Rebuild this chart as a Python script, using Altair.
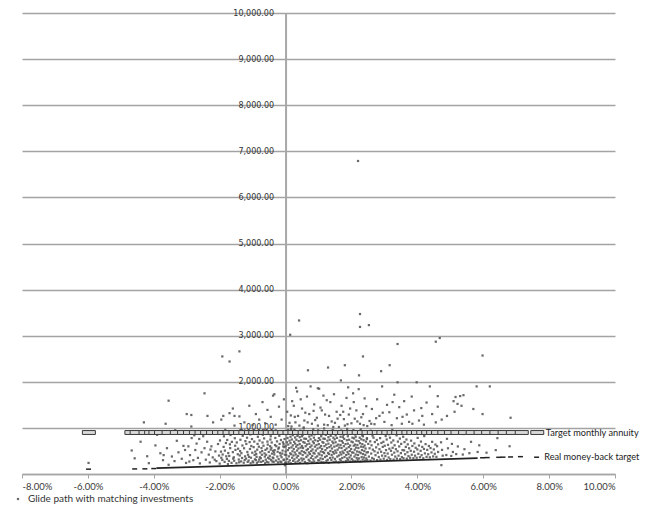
import altair as alt
import pandas as pd

# ---------------- data ----------------
x_ticks = [-8, -6, -4, -2, 0, 2, 4, 6, 8, 10]
y_ticks = [0, 1000, 2000, 3000, 4000, 5000, 6000, 7000, 8000, 9000, 10000]

glide_name = "Glide path with matching investments"
annuity_name = "Target monthly annuity"
moneyback_name = "Real money-back target"

# sparse / outlying glide-path outcomes (x in %, y in currency)
glide_sparse = [
    (2.2, 6790), (2.26, 3470), (0.41, 3330), (2.26, 3190), (2.53, 3230), (0.14, 3020),
    (-1.92, 2550), (-1.7, 2440), (-1.4, 2660), (0.68, 2250), (1.29, 2310), (1.8, 2360),
    (2.35, 2550), (2.23, 2140), (2.9, 2230), (3.16, 2360), (3.4, 2820), (1.68, 2030),
    (4.56, 2870), (4.68, 2950), (5.98, 2570), (0.32, 1870), (0.98, 1860), (1.9, 1880),
    (-5.98, 240), (-3.55, 1590), (-2.46, 1750), (-0.34, 1730), (-3.64, 1090),
    (-2.86, 1280), (-2.37, 1260), (-1.89, 1260), (-1.55, 1260), (-2.86, 1030),
]

# left part of the cloud (x < -2 %)
glide_left = [
    (-4.67, 510), (-4.58, 340), (-4.2, 385), (-4.15, 235), (-3.95, 620), (-3.8, 450),
    (-3.72, 300), (-3.6, 560), (-3.55, 200), (-3.45, 380), (-3.37, 280), (-3.3, 720),
    (-3.25, 470), (-3.15, 330), (-3.1, 610), (-3.02, 240), (-2.95, 600), (-2.9, 410),
    (-2.85, 780), (-2.8, 300), (-2.74, 520), (-2.7, 660), (-2.66, 350), (-2.6, 230),
    (-2.55, 470), (-2.5, 820), (-2.46, 560), (-2.42, 310), (-2.38, 700), (-2.33, 420),
    (-2.3, 250), (-2.25, 600), (-2.21, 360), (-2.17, 880), (-2.13, 490), (-2.1, 280),
    (-2.05, 650), (-2.02, 400), (-4.4, 700), (-3.9, 850), (-2.77, 840), (-3.35, 950),
    (-3.05, 520), (-2.62, 760), (-2.28, 530), (-2.15, 310), (-3.7, 410), (-2.92, 270),
]

# dense cloud below the annuity level, -2 % .. 0 %
glide_mid_left = [
    (-2.0, 225), (-1.96, 485), (-1.99, 728), (-1.95, 352), (-1.97, 905),
    (-1.92, 305), (-1.88, 588), (-1.91, 423), (-1.87, 817),
    (-1.85, 262), (-1.81, 672), (-1.84, 507), (-1.8, 384), (-1.83, 958),
    (-1.78, 328), (-1.74, 455), (-1.77, 738), (-1.75, 214),
    (-1.72, 283), (-1.68, 561), (-1.71, 392), (-1.67, 846), (-1.69, 643),
    (-1.64, 242), (-1.6, 474), (-1.63, 697), (-1.59, 334), (-1.61, 918),
    (-1.57, 362), (-1.53, 613), (-1.56, 288), (-1.52, 523), (-1.54, 776),
    (-1.49, 233), (-1.45, 428), (-1.48, 684), (-1.44, 548), (-1.46, 872),
    (-1.42, 313), (-1.38, 497), (-1.41, 254), (-1.37, 743), (-1.39, 402), (-1.36, 957),
    (-1.35, 273), (-1.31, 618), (-1.34, 452), (-1.3, 828), (-1.32, 347),
    (-1.27, 244), (-1.23, 383), (-1.26, 558), (-1.22, 713), (-1.24, 302), (-1.21, 897),
    (-1.2, 334), (-1.16, 478), (-1.19, 652), (-1.15, 263), (-1.17, 787), (-1.14, 418),
    (-1.12, 292), (-1.08, 543), (-1.11, 372), (-1.07, 858), (-1.09, 692), (-1.06, 234),
    (-1.05, 353), (-1.01, 462), (-1.04, 607), (-1.0, 273), (-1.02, 758), (-0.99, 938),
    (-0.98, 252), (-0.94, 413), (-0.97, 583), (-0.93, 318), (-0.95, 703), (-0.92, 487), (-0.96, 882),
    (-0.9, 303), (-0.86, 528), (-0.89, 433), (-0.85, 653), (-0.87, 243), (-0.84, 807), (-0.88, 372),
    (-0.82, 268), (-0.78, 363), (-0.81, 592), (-0.77, 468), (-0.79, 727), (-0.76, 918), (-0.8, 313),
    (-0.75, 343), (-0.71, 498), (-0.74, 262), (-0.7, 683), (-0.72, 417), (-0.69, 852), (-0.73, 563),
    (-0.68, 283), (-0.64, 447), (-0.67, 613), (-0.63, 378), (-0.65, 772), (-0.62, 232), (-0.66, 957), (-0.61, 523),
    (-0.6, 312), (-0.56, 553), (-0.59, 418), (-0.55, 703), (-0.57, 263), (-0.54, 638), (-0.58, 868), (-0.53, 352),
    (-0.52, 252), (-0.48, 392), (-0.51, 478), (-0.47, 603), (-0.49, 332), (-0.46, 748), (-0.5, 923), (-0.45, 528),
    (-0.44, 302), (-0.41, 442), (-0.43, 568), (-0.4, 272), (-0.42, 683), (-0.39, 358), (-0.45, 818), (-0.38, 503),
    (-0.37, 342), (-0.33, 518), (-0.36, 263), (-0.32, 628), (-0.34, 423), (-0.31, 782), (-0.35, 468), (-0.3, 948),
    (-0.29, 292), (-0.25, 378), (-0.28, 603), (-0.24, 482), (-0.26, 708), (-0.23, 253), (-0.27, 878), (-0.22, 548),
    (-0.21, 322), (-0.17, 458), (-0.2, 573), (-0.16, 268), (-0.18, 652), (-0.15, 403), (-0.19, 828), (-0.14, 738),
    (-0.13, 262), (-0.09, 508), (-0.12, 363), (-0.08, 688), (-0.1, 443), (-0.07, 598), (-0.11, 928), (-0.06, 302),
    (-0.05, 313), (-0.02, 418), (-0.04, 583), (-0.01, 243), (-0.03, 758), (0.0, 488), (-0.06, 652), (-0.02, 868),
    (-0.02, 190),
]

# dense cloud below the annuity level, 0 % .. 2.5 %
glide_mid = [
    (0.01, 243), (0.05, 328), (0.02, 412), (0.07, 518), (0.0, 603), (0.04, 688), (0.06, 782), (0.03, 867), (0.08, 953),
    (0.09, 262), (0.13, 298), (0.1, 383), (0.14, 448), (0.11, 562), (0.08, 638), (0.12, 723), (0.15, 808), (0.1, 903),
    (0.16, 232), (0.2, 352), (0.17, 428), (0.21, 493), (0.18, 577), (0.15, 672), (0.19, 748), (0.22, 843), (0.17, 978),
    (0.23, 283), (0.27, 318), (0.24, 402), (0.28, 468), (0.25, 543), (0.22, 622), (0.26, 698), (0.29, 792), (0.24, 878), (0.27, 963),
    (0.3, 252), (0.34, 358), (0.31, 423), (0.35, 508), (0.32, 593), (0.29, 658), (0.33, 742), (0.36, 828), (0.31, 922),
    (0.37, 273), (0.41, 308), (0.38, 393), (0.42, 458), (0.39, 553), (0.36, 628), (0.4, 713), (0.43, 798), (0.38, 862),
    (0.44, 243), (0.48, 338), (0.45, 443), (0.49, 498), (0.46, 573), (0.43, 648), (0.47, 733), (0.5, 818), (0.45, 942),
    (0.51, 292), (0.55, 328), (0.52, 412), (0.56, 478), (0.53, 563), (0.5, 608), (0.54, 693), (0.57, 768), (0.52, 852), (0.55, 988),
    (0.59, 262), (0.63, 368), (0.6, 453), (0.64, 518), (0.61, 603), (0.58, 678), (0.62, 763), (0.6, 888),
    (0.66, 233), (0.7, 308), (0.67, 403), (0.71, 468), (0.68, 543), (0.65, 642), (0.69, 718), (0.72, 812), (0.67, 928),
    (0.73, 282), (0.77, 348), (0.74, 433), (0.78, 498), (0.75, 583), (0.72, 658), (0.76, 753), (0.79, 838),
    (0.8, 253), (0.84, 318), (0.81, 393), (0.85, 458), (0.82, 533), (0.79, 618), (0.83, 703), (0.86, 788), (0.81, 902), (0.84, 968),
    (0.87, 272), (0.91, 358), (0.88, 443), (0.92, 508), (0.89, 593), (0.86, 668), (0.9, 733), (0.88, 858),
    (0.95, 243), (0.99, 298), (0.96, 383), (1.0, 448), (0.97, 553), (0.94, 628), (0.98, 713), (1.01, 778), (0.96, 882), (0.99, 948),
    (1.02, 292), (1.06, 338), (1.03, 423), (1.07, 488), (1.04, 573), (1.01, 648), (1.05, 743), (1.08, 818), (1.03, 912),
    (1.09, 263), (1.13, 328), (1.1, 403), (1.14, 478), (1.11, 543), (1.08, 608), (1.12, 693), (1.15, 768), (1.1, 862),
    (1.16, 252), (1.2, 368), (1.17, 453), (1.21, 518), (1.18, 603), (1.15, 678), (1.19, 763), (1.22, 848), (1.17, 988),
    (1.24, 283), (1.28, 308), (1.25, 393), (1.29, 458), (1.26, 563), (1.23, 638), (1.27, 723), (1.3, 798), (1.25, 922),
    (1.31, 243), (1.35, 348), (1.32, 433), (1.36, 498), (1.33, 583), (1.3, 658), (1.34, 743), (1.37, 828), (1.32, 888),
    (1.39, 302), (1.43, 358), (1.4, 413), (1.44, 478), (1.41, 553), (1.38, 618), (1.42, 703), (1.45, 788), (1.4, 872), (1.43, 958),
    (1.46, 263), (1.5, 328), (1.47, 443), (1.51, 508), (1.48, 593), (1.45, 668), (1.49, 753), (1.52, 838), (1.47, 932),
    (1.53, 272), (1.57, 378), (1.54, 463), (1.58, 528), (1.55, 613), (1.52, 688), (1.56, 783), (1.54, 898),
    (1.61, 253), (1.65, 318), (1.62, 403), (1.66, 468), (1.63, 573), (1.6, 638), (1.64, 723), (1.67, 808), (1.62, 882),
    (1.68, 292), (1.72, 348), (1.69, 423), (1.73, 488), (1.7, 563), (1.67, 628), (1.71, 713), (1.74, 798), (1.69, 942),
    (1.75, 263), (1.79, 368), (1.76, 453), (1.8, 518), (1.77, 603), (1.74, 678), (1.78, 763), (1.76, 848),
    (1.83, 282), (1.87, 338), (1.84, 413), (1.88, 478), (1.85, 553), (1.82, 648), (1.86, 733), (1.89, 818), (1.84, 912), (1.87, 978),
    (1.9, 302), (1.94, 358), (1.91, 433), (1.95, 498), (1.92, 583), (1.89, 658), (1.93, 743), (1.91, 868),
    (1.97, 273), (2.01, 328), (1.98, 403), (2.02, 468), (1.99, 543), (1.96, 618), (2.0, 703), (2.03, 788), (1.98, 892),
    (2.05, 292), (2.09, 378), (2.06, 463), (2.1, 528), (2.07, 613), (2.04, 688), (2.08, 773), (2.11, 858), (2.06, 952),
    (2.12, 283), (2.16, 348), (2.13, 423), (2.17, 488), (2.14, 573), (2.11, 638), (2.15, 723), (2.13, 808),
    (2.19, 302), (2.23, 338), (2.2, 413), (2.24, 478), (2.21, 563), (2.18, 628), (2.22, 713), (2.25, 788), (2.2, 902),
    (2.27, 273), (2.31, 368), (2.28, 453), (2.32, 518), (2.29, 593), (2.26, 668), (2.3, 753), (2.33, 838), (2.28, 968),
    (2.34, 312), (2.38, 358), (2.35, 433), (2.39, 498), (2.36, 583), (2.33, 648), (2.37, 733), (2.35, 818),
    (2.41, 292), (2.45, 338), (2.42, 413), (2.46, 468), (2.43, 553), (2.4, 618), (2.44, 703), (2.47, 778), (2.42, 882),
]

# cloud below the annuity level, 2.5 % and above
glide_mid_right = [
    (2.48, 302), (2.53, 378), (2.5, 473), (2.55, 558), (2.51, 653), (2.47, 758), (2.54, 882),
    (2.58, 292), (2.63, 348), (2.6, 443), (2.65, 528), (2.61, 623), (2.57, 708), (2.64, 833), (2.59, 938),
    (2.68, 322), (2.73, 408), (2.7, 493), (2.75, 578), (2.71, 693), (2.67, 788),
    (2.78, 302), (2.83, 368), (2.8, 463), (2.85, 538), (2.81, 643), (2.77, 738), (2.84, 872),
    (2.88, 313), (2.93, 398), (2.9, 483), (2.95, 588), (2.91, 673), (2.87, 778), (2.94, 918),
    (2.98, 332), (3.03, 388), (3.0, 453), (3.05, 518), (3.01, 613), (2.97, 698), (3.04, 823),
    (3.08, 303), (3.13, 358), (3.1, 443), (3.15, 548), (3.11, 633), (3.07, 748), (3.14, 862),
    (3.18, 322), (3.23, 418), (3.2, 503), (3.25, 568), (3.21, 683), (3.17, 788), (3.24, 958),
    (3.28, 313), (3.33, 378), (3.3, 463), (3.35, 538), (3.31, 623), (3.27, 728),
    (3.38, 333), (3.43, 398), (3.4, 493), (3.45, 598), (3.41, 703), (3.37, 838),
    (3.48, 322), (3.53, 368), (3.5, 453), (3.55, 518), (3.51, 653), (3.47, 768), (3.54, 902),
    (3.58, 342), (3.63, 428), (3.6, 513), (3.65, 588), (3.61, 693), (3.57, 808),
    (3.68, 333), (3.73, 388), (3.7, 473), (3.75, 558), (3.71, 643), (3.67, 748),
    (3.78, 352), (3.83, 418), (3.8, 503), (3.85, 608), (3.81, 723), (3.77, 878),
    (3.88, 343), (3.93, 398), (3.9, 483), (3.95, 568), (3.91, 663),
    (3.98, 352), (4.03, 438), (4.0, 533), (4.05, 618), (4.01, 783),
    (4.08, 363), (4.13, 408), (4.1, 503), (4.15, 588), (4.11, 703),
    (4.18, 342), (4.23, 448), (4.2, 543), (4.25, 648), (4.21, 823),
    (4.28, 372), (4.33, 428), (4.3, 523), (4.35, 608),
    (4.38, 362), (4.43, 468), (4.4, 563), (4.45, 698),
    (4.48, 382), (4.53, 438), (4.5, 533), (4.55, 638),
    (4.58, 372), (4.63, 478), (4.6, 603),
    (4.73, 192), (4.77, 398), (4.75, 523), (4.72, 688),
    (4.88, 412), (4.93, 558), (4.9, 763),
    (5.03, 392), (5.08, 478), (5.05, 653),
    (5.18, 432), (5.23, 598), (5.38, 422), (5.43, 538), (5.4, 868),
    (5.58, 452), (5.63, 698), (5.83, 478), (5.88, 622), (6.1, 462), (6.38, 518), (6.43, 778), (6.8, 602),
]

# cloud between 1,000 and 2,000
glide_upper = [
    (-1.95, 1180), (-1.7, 1320), (-1.55, 1050), (-1.4, 1250), (-1.25, 1120), (-1.1, 1480),
    (-1.0, 1060), (-0.9, 1300), (-0.8, 1180), (-0.7, 1560), (-0.62, 1100), (-0.55, 1390),
    (-0.45, 1240), (-0.38, 1700), (-0.3, 1070), (-0.2, 1460), (-0.12, 1180), (-0.05, 1620),
    (-1.6, 1420), (-3.0, 1300), (-4.3, 1120), (-2.2, 1120),
    (0.05, 1350), (0.12, 1110), (0.2, 1580), (0.28, 1240), (0.35, 1790), (0.42, 1050),
    (0.5, 1420), (0.57, 1160), (0.65, 1680), (0.72, 1300), (0.8, 1090), (0.87, 1510),
    (0.95, 1220), (1.02, 1850), (1.1, 1380), (1.17, 1070), (1.25, 1600), (1.32, 1260),
    (1.4, 1140), (1.47, 1730), (1.55, 1350), (1.62, 1020), (1.7, 1480), (1.77, 1190),
    (1.85, 1650), (1.92, 1290), (2.0, 1100), (2.07, 1560), (2.15, 1380), (2.22, 1840),
    (2.3, 1230), (2.37, 1060), (2.45, 1470), (0.08, 1040), (0.16, 1270), (0.3, 1120),
    (0.46, 1620), (0.6, 1330), (0.76, 1900), (0.9, 1170), (1.06, 1440), (1.2, 1290),
    (1.36, 1560), (1.5, 1110), (1.66, 1280), (1.8, 1050), (1.96, 1420), (2.1, 1200),
    (2.26, 1090), (2.4, 1640), (0.25, 1480), (0.55, 1010), (0.85, 1370), (1.15, 1700),
    (1.45, 1020), (1.75, 1350), (2.05, 1750), (2.35, 1300),
    (2.55, 1150), (2.62, 1410), (2.7, 1080), (2.78, 1620), (2.85, 1260), (2.93, 1900),
    (3.0, 1130), (3.08, 1500), (3.15, 1340), (3.22, 1060), (3.3, 1720), (3.38, 1210),
    (3.45, 1450), (3.53, 1090), (3.6, 1580), (3.68, 1290), (3.75, 1130), (3.83, 1680),
    (3.9, 1380), (3.98, 1990), (3.4, 1990), (4.05, 1160), (4.12, 1430), (4.2, 1070),
    (4.28, 1550), (4.38, 1900), (4.45, 1300), (4.56, 1120), (4.62, 1460), (4.62, 1690),
    (4.74, 1180), (4.9, 1260), (5.1, 1580), (5.13, 1350), (5.16, 1670), (5.22, 1520),
    (5.3, 1690), (5.34, 1480), (5.4, 1710), (5.7, 1410), (5.98, 1300), (6.83, 1220),
    (5.8, 1900), (6.2, 1900), (2.6, 1090), (2.95, 1330), (3.25, 1560), (3.55, 1240),
    (3.85, 1090), (4.15, 1260), (0.18, 1030), (0.67, 1120), (1.28, 1060), (1.58, 1200),
    (1.88, 1080), (2.18, 1140), (2.48, 1040), (0.38, 1260), (0.98, 1050), (2.75, 1210),
]

annuity_level = 900
annuity_x = [-5.97, -4.68, -4.52, -4.25, -4.08, -3.95, -3.78, -3.55, -3.3, -3.08, -2.9,
             -2.72, -2.55, -2.38, -2.2, -2.02, -1.86, -1.7, -1.52, -1.38, -1.22, -1.05,
             -0.92, -0.78, -0.62, -0.48, -0.33, -0.18, -0.04, 0.12, 0.27, 0.41, 0.58,
             0.72, 0.87, 1.02, 1.18, 1.33, 1.47, 1.62, 1.78, 1.93, 2.07, 2.22, 2.38,
             2.52, 2.68, 2.83, 2.97, 3.12, 3.28, 3.42, 3.57, 3.73, 3.88, 4.02, 4.18,
             4.33, 4.48, 4.63, 4.82, 5.02, 5.22, 5.45, 5.68, 5.92, 6.15, 6.4, 6.65,
             6.9, 7.17]

moneyback_line_x = [-3.92, 0.0, 5.83]
moneyback_line_y = [128, 214, 344]
moneyback_dash_x = [-5.98, -4.58, -4.27, -4.0, 5.98, 6.12, 6.47, 6.6, 6.83, 7.13]
moneyback_dash_y = [105, 110, 112, 118, 352, 356, 362, 365, 370, 376]

label_text = [annuity_name, moneyback_name]
label_x = [7.9, 7.85]
label_y = [900, 364]
key_x = [7.64, 7.62]

# ---------------- tables ----------------
pts = glide_sparse + glide_left + glide_mid_left + glide_mid + glide_mid_right + glide_upper
glide = pd.DataFrame(pts, columns=["x", "y"])
glide["series"] = glide_name

annuity = pd.DataFrame({"x": annuity_x, "y": [annuity_level] * len(annuity_x)})
mb_line = pd.DataFrame({"x": moneyback_line_x, "y": moneyback_line_y})
mb_dash = pd.DataFrame({"x": moneyback_dash_x, "y": moneyback_dash_y})
labels = pd.DataFrame({"text": label_text, "x": label_x, "y": label_y, "kx": key_x})

# ---------------- chart ----------------
W, H = 593, 461
xs = alt.Scale(domain=[-8, 10], nice=False, zero=False)
ys = alt.Scale(domain=[0, 10000], nice=False)

x_axis = alt.Axis(
    values=x_ticks, title=None, grid=False,
    labelExpr="replace(format(datum.value, '.2f'), '\u2212', '-') + '%'",
    domainColor="#a6a6a6", domainWidth=1.5, tickColor="#a6a6a6", tickSize=4,
    tickWidth=1, labelFont="Lato", labelFontSize=9.5, labelColor="#3a3a3a",
    labelPadding=3,
)
y_axis = alt.Axis(
    values=y_ticks, title=None, grid=True, gridColor="#a3a3a3", gridWidth=1.5,
    labelExpr="datum.value == 0 ? '' : format(datum.value, ',.2f')",
    offset=-(W * 8 / 18), domainColor="#a8a8a8", domainWidth=2, ticks=False,
    labelPadding=12, labelFont="DejaVu Sans", labelFontSize=8, labelColor="#333333",
)

X = alt.X("x:Q", scale=xs, axis=x_axis)
Y = alt.Y("y:Q", scale=ys, axis=y_axis)

scatter = alt.Chart(glide).mark_square(size=5, opacity=0.9).encode(
    x=X, y=Y,
    color=alt.Color(
        "series:N", scale=alt.Scale(range=["#5a5a5a"]),
        legend=alt.Legend(
            orient="none", legendX=-9, legendY=481, title=None, symbolType="square",
            symbolSize=5, labelFont="Lato", labelFontSize=10, labelColor="#333333",
            labelOffset=5, padding=0, labelLimit=0,
        ),
    ),
)

mb_line_layer = alt.Chart(mb_line).mark_line(color="#222222", strokeWidth=1.8).encode(
    x=alt.X("x:Q", scale=xs), y=alt.Y("y:Q", scale=ys)
)
mb_dash_layer = alt.Chart(mb_dash).mark_point(
    shape="M-1,0H1", size=25, stroke="#222222", strokeWidth=1.5, filled=False, opacity=1
).encode(x=alt.X("x:Q", scale=xs), y=alt.Y("y:Q", scale=ys))

rect_shape = "M-1,-0.3H1V0.3H-1Z"
annuity_layer = alt.Chart(annuity).mark_point(
    shape=rect_shape, size=169, fill="#d9d9d9", stroke="#3a3a3a", strokeWidth=1,
    filled=True, opacity=1,
).encode(x=alt.X("x:Q", scale=xs), y=alt.Y("y:Q", scale=ys))

key_rect = alt.Chart(labels.iloc[[0]]).mark_point(
    shape=rect_shape, size=169, fill="#d9d9d9", stroke="#3a3a3a", strokeWidth=1,
    filled=True, opacity=1,
).encode(x=alt.X("kx:Q", scale=xs), y=alt.Y("y:Q", scale=ys))
key_dash = alt.Chart(labels.iloc[[1]]).mark_point(
    shape="M-1,0H1", size=25, stroke="#222222", strokeWidth=1.5, filled=False, opacity=1
).encode(x=alt.X("kx:Q", scale=xs), y=alt.Y("y:Q", scale=ys))

label_layer = alt.Chart(labels).mark_text(
    align="left", baseline="middle", font="Lato", fontSize=9.2, color="#222222"
).encode(x=alt.X("x:Q", scale=xs), y=alt.Y("y:Q", scale=ys), text="text:N")

chart = alt.layer(
    scatter, mb_line_layer, mb_dash_layer, annuity_layer, key_rect, key_dash, label_layer
).properties(
    width=W, height=H, autosize=alt.AutoSizeParams(type="none"),
    padding={"left": 14, "top": 5, "right": 30, "bottom": 30},
    background="white",
).configure_view(stroke=None)

chart.save("out.html", embed_options={"renderer": "svg", "actions": False})
